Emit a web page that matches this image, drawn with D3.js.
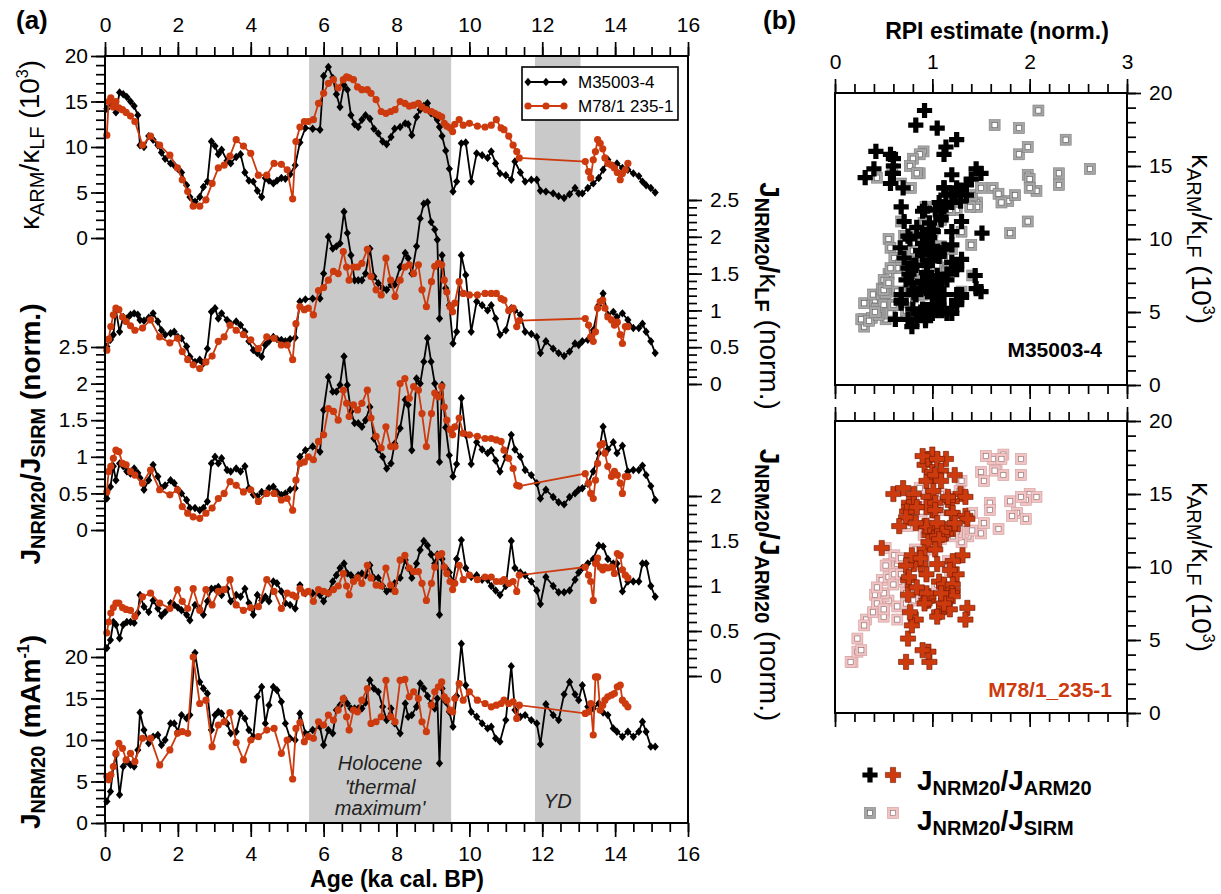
<!DOCTYPE html>
<html>
<head>
<meta charset="utf-8">
<script src="https://cdn.jsdelivr.net/npm/d3@7"></script>
<style>
  body { margin: 0; background: #fff; }
  svg text { white-space: pre; }
</style>
</head>
<body>
<svg id="chart" width="1221" height="894"></svg>
<script>
// ---- data: core M35003-4 (black) ----
const ageM35 = [
  0.05, 0.15, 0.23, 0.3, 0.4, 0.5, 0.6, 0.7, 0.8, 0.9,
  0.96, 1.07, 1.2, 1.32, 1.45, 1.55, 1.65, 1.8, 1.9, 2.0,
  2.1, 2.24, 2.33, 2.47, 2.6, 2.7, 2.81, 2.92, 3.02, 3.11,
  3.2, 3.35, 3.45, 3.6, 3.72, 3.84, 3.95, 4.07, 4.18, 4.3,
  4.4, 4.5, 4.62, 4.72, 4.84, 4.95, 5.08, 5.22, 5.35, 5.5,
  5.7, 5.9, 6.0, 6.13, 6.25, 6.35, 6.45, 6.56, 6.65, 6.75,
  6.85, 6.95, 7.05, 7.15, 7.27, 7.38, 7.5, 7.62, 7.73, 7.85,
  7.95, 8.1, 8.24, 8.32, 8.42, 8.55, 8.65, 8.75, 8.85, 8.95,
  9.05, 9.12, 9.18, 9.25, 9.35, 9.45, 9.55, 9.65, 9.78, 9.9,
  10.05, 10.2, 10.35, 10.5, 10.6, 10.72, 10.84, 11.0, 11.15, 11.25,
  11.4, 11.53, 11.7, 11.85, 11.95, 12.1, 12.3, 12.45, 12.6, 12.75,
  12.9, 13.0, 13.1, 13.25, 13.4, 13.55, 13.67, 13.8, 13.95, 14.05,
  14.2, 14.35, 14.5, 14.65, 14.75, 14.85, 14.98, 15.1
];
// kARM/kLF (10^3)
const kM35 = [
  14.2, 14.8, 14.5, 13.8, 16.0, 15.8, 15.5, 15.0, 14.5, 13.5,
  10.2, 10.0, 11.2, 10.8, 10.2, 9.4, 8.7, 8.2, 8.0, 7.6,
  7.2, 5.8, 4.5, 4.0, 4.5, 5.6, 6.2, 10.6, 10.1, 9.2,
  9.7, 8.5, 8.2, 8.9, 9.2, 7.2, 6.3, 6.2, 5.2, 4.5,
  6.6, 6.3, 6.0, 6.3, 6.6, 6.5, 7.0, 8.0, 10.5, 12.1,
  12.0, 11.9, 17.8, 18.8, 17.6, 15.8, 14.4, 16.8, 16.3, 13.5,
  12.5, 12.2, 13.0, 13.5, 13.1, 12.0, 11.5, 10.6, 10.3, 11.1,
  12.0, 12.2, 12.6, 12.5, 11.3, 13.3, 14.1, 14.5, 14.8, 13.7,
  13.5, 13.0, 12.2, 11.2, 9.6, 7.6, 5.1, 6.2, 10.4, 10.5,
  6.2, 9.3, 9.1, 8.8, 9.5, 8.2, 7.1, 6.9, 6.4, 8.4,
  7.2, 6.2, 6.4, 6.4, 5.2, 5.1, 4.9, 4.6, 4.4, 4.8,
  5.5, 4.9, 4.9, 5.5, 6.0, 6.6, 7.5, 8.6, 7.9, 8.2,
  7.7, 7.5, 7.1, 6.8, 6.2, 5.8, 5.5, 5.0
];
// JNRM20/kLF (norm.)
const nkM35 = [
  0.51, 0.60, 0.67, 1.00, 0.71, 0.91, 0.89, 0.94, 0.96, 0.94,
  0.87, 0.86, 0.90, 0.96, 0.85, 0.73, 0.67, 0.69, 0.71, 0.64,
  0.62, 0.51, 0.37, 0.30, 0.33, 0.28, 0.48, 0.98, 1.03, 0.89,
  0.96, 0.87, 0.82, 0.85, 0.80, 0.71, 0.58, 0.46, 0.42, 0.37,
  0.53, 0.58, 0.64, 0.61, 0.60, 0.58, 0.61, 0.63, 1.12, 1.15,
  1.16, 1.16, 1.50, 2.00, 1.84, 1.87, 1.91, 2.34, 2.05, 1.75,
  1.41, 1.41, 1.41, 1.50, 1.84, 1.46, 1.37, 1.30, 1.28, 1.35,
  1.35, 1.59, 1.78, 1.71, 1.50, 1.87, 2.25, 2.45, 2.47, 2.20,
  2.10, 1.96, 0.89, 1.75, 1.30, 1.07, 0.55, 0.71, 1.75, 1.48,
  0.71, 1.12, 1.07, 1.00, 1.07, 0.89, 0.67, 0.73, 1.03, 1.00,
  0.94, 0.71, 0.68, 0.64, 0.42, 0.58, 0.48, 0.42, 0.38, 0.44,
  0.55, 0.53, 0.58, 0.60, 0.73, 1.07, 1.23, 0.94, 0.98, 0.91,
  0.96, 0.87, 0.76, 0.76, 0.82, 0.71, 0.58, 0.42
];
// JNRM20/JSIRM (norm.)
const nsM35 = [
  0.43, 0.59, 0.87, 0.68, 0.91, 0.87, 0.80, 0.77, 0.84, 0.78,
  0.71, 0.55, 0.68, 0.89, 0.73, 0.57, 0.61, 0.68, 0.64, 0.55,
  0.50, 0.41, 0.30, 0.30, 0.27, 0.30, 0.39, 0.91, 1.00, 0.91,
  0.98, 0.82, 0.80, 0.84, 0.80, 0.87, 0.57, 0.48, 0.46, 0.52,
  0.50, 0.57, 0.59, 0.52, 0.48, 0.50, 0.55, 0.57, 1.00, 1.09,
  1.14, 1.07, 1.64, 2.09, 1.89, 1.89, 1.98, 2.37, 1.98, 1.62,
  1.46, 1.46, 1.41, 1.50, 1.68, 1.25, 1.10, 1.00, 0.84, 0.91,
  1.18, 1.39, 1.78, 1.71, 1.09, 2.07, 2.00, 2.30, 2.62, 2.30,
  2.00, 1.85, 0.93, 1.98, 1.40, 1.02, 0.73, 0.90, 1.80, 1.30,
  0.90, 1.20, 1.10, 1.05, 1.09, 0.95, 0.80, 1.00, 1.30, 1.10,
  1.00, 0.82, 0.75, 0.64, 0.43, 0.55, 0.45, 0.38, 0.35, 0.45,
  0.50, 0.55, 0.57, 0.63, 0.80, 1.05, 1.41, 1.10, 1.20, 1.05,
  1.15, 0.80, 0.82, 0.82, 0.88, 0.75, 0.60, 0.41
];
// JNRM20/JARM20 (norm.)
const naM35 = [
  0.31, 0.40, 0.60, 0.57, 0.42, 0.57, 0.60, 0.60, 0.59, 0.70,
  0.90, 0.77, 0.71, 0.84, 0.75, 0.67, 0.71, 0.81, 0.79, 0.76,
  0.73, 0.68, 0.62, 0.79, 0.75, 0.68, 0.83, 0.97, 0.97, 0.99,
  0.90, 0.97, 0.83, 0.90, 0.88, 0.97, 0.81, 0.68, 0.90, 0.84,
  0.88, 0.83, 1.05, 1.03, 0.94, 0.81, 0.79, 0.75, 1.01, 0.92,
  0.92, 0.90, 0.83, 0.92, 1.05, 1.12, 1.20, 1.25, 1.14, 1.12,
  1.07, 1.12, 1.14, 1.12, 1.23, 1.09, 1.09, 1.00, 0.94, 0.97,
  1.03, 1.09, 1.29, 1.20, 1.09, 1.25, 1.40, 1.50, 1.45, 1.35,
  1.25, 1.35, 0.68, 1.30, 1.20, 1.15, 1.05, 1.30, 1.51, 1.20,
  1.10, 1.12, 1.07, 1.07, 1.00, 0.95, 0.90, 1.00, 1.50, 1.20,
  1.15, 1.12, 1.05, 0.95, 0.80, 1.10, 1.00, 0.93, 0.93, 0.95,
  1.07, 1.15, 1.20, 1.25, 1.30, 1.45, 1.44, 1.30, 1.25, 1.25,
  0.94, 1.05, 1.05, 1.05, 1.25, 1.25, 1.00, 0.88
];
// JNRM20 (mA/m)
const nM35 = [
  2.6, 3.8, 6.8, 8.2, 3.4, 6.8, 7.4, 7.0, 6.8, 8.8,
  13.3, 11.2, 9.6, 10.4, 10.6, 9.4, 10.0, 12.0, 12.0, 11.0,
  13.0, 12.6, 13.0, 20.5, 17.0, 16.2, 15.6, 11.2, 13.0, 13.4,
  13.2, 12.0, 10.8, 11.0, 13.2, 12.6, 11.2, 10.4, 15.2, 16.4,
  12.0, 14.2, 16.4, 16.0, 14.6, 12.0, 10.2, 10.0, 13.2, 10.8,
  11.2, 11.6, 9.4, 11.2, 10.8, 13.6, 14.2, 15.0, 14.4, 13.8,
  13.8, 13.8, 13.8, 14.5, 17.2, 16.2, 15.8, 14.0, 12.4, 13.8,
  12.0, 10.8, 14.4, 12.8, 13.0, 14.0, 16.8, 16.2, 15.3, 14.4,
  13.8, 15.0, 7.2, 16.2, 14.6, 13.4, 11.6, 15.3, 21.6, 16.6,
  13.4, 12.8, 12.0, 11.4, 11.6, 10.2, 9.8, 12.4, 18.9, 13.6,
  12.8, 13.0, 12.4, 12.0, 9.5, 14.3, 13.0, 12.4, 15.5, 17.0,
  15.5, 14.8, 16.6, 14.0, 13.8, 14.4, 13.3, 13.0, 11.4, 11.0,
  10.4, 11.0, 10.4, 11.0, 12.2, 11.0, 9.2, 9.2
];

// ---- data: core M78/1 235-1 (red) ----
const ageM78 = [
  0.05, 0.1, 0.16, 0.23, 0.3, 0.38, 0.48, 0.58, 0.7, 0.82,
  1.03, 1.25, 1.5, 1.78, 1.99, 2.12, 2.27, 2.42, 2.6, 2.77,
  2.94, 3.11, 3.27, 3.43, 3.6, 3.8, 4.0, 4.21, 4.44, 4.64,
  4.84, 5.0, 5.15, 5.24, 5.35, 5.47, 5.58, 5.72, 5.86, 6.0,
  6.13, 6.27, 6.4, 6.54, 6.63, 6.7, 6.82, 6.93, 7.05, 7.2,
  7.3, 7.44, 7.58, 7.71, 7.84, 7.96, 8.1, 8.23, 8.35, 8.47,
  8.6, 8.7, 8.82, 8.96, 9.05, 9.15, 9.24, 9.31, 9.38, 9.47,
  9.54, 9.6, 9.72, 9.83, 10.0, 10.22, 10.43, 10.6, 10.74, 10.87,
  10.95, 11.08, 11.2, 11.3, 11.37, 13.18, 13.27, 13.33, 13.4, 13.46,
  13.52, 13.59, 13.66, 13.72, 13.8, 13.9, 13.98, 14.06, 14.14, 14.2,
  14.28, 14.35
];
const kM78 = [
  11.3, 15.0, 15.4, 14.4, 15.0, 14.3, 14.1, 13.8, 13.4, 12.8,
  10.2, 11.2, 10.2, 9.1, 7.7, 6.4, 5.1, 3.5, 3.5, 4.2,
  6.0, 7.7, 8.0, 9.0, 10.8, 10.1, 9.3, 6.9, 6.9, 8.2,
  8.1, 7.5, 4.3, 10.6, 12.2, 12.8, 12.8, 13.0, 14.8, 15.9,
  17.0, 17.4, 16.5, 17.4, 17.7, 17.6, 17.4, 16.6, 16.3, 16.3,
  15.9, 15.2, 13.9, 13.7, 13.9, 14.1, 15.0, 14.8, 14.5, 14.6,
  14.8, 14.4, 14.1, 13.9, 13.7, 13.5, 13.3, 12.6, 12.3, 12.1,
  11.7, 12.5, 13.0, 12.4, 12.6, 12.3, 12.2, 12.4, 13.0, 12.1,
  11.9, 11.2, 10.2, 9.5, 8.8, 8.4, 7.3, 6.6, 8.6, 9.5,
  10.8, 10.4, 9.8, 8.8, 8.2, 8.0, 7.7, 7.2, 6.4, 7.1,
  7.5, 8.2
];
const nkM78 = [
  0.46, 0.61, 0.78, 0.94, 1.03, 1.01, 0.91, 0.85, 0.79, 0.73,
  0.76, 0.87, 0.64, 0.56, 0.62, 0.44, 0.33, 0.26, 0.21, 0.30,
  0.38, 0.58, 0.64, 0.80, 0.73, 0.67, 0.60, 0.48, 0.64, 0.62,
  0.53, 0.53, 0.33, 0.82, 1.05, 1.01, 1.03, 0.94, 1.27, 1.31,
  1.41, 1.53, 1.50, 1.80, 1.59, 1.41, 1.59, 1.59, 1.64, 1.83,
  1.46, 1.28, 1.21, 1.71, 1.41, 1.19, 1.41, 1.59, 1.62, 1.50,
  1.62, 1.28, 1.05, 1.39, 1.60, 1.64, 1.62, 1.41, 1.25, 1.05,
  0.98, 1.10, 1.39, 1.23, 1.21, 1.21, 1.23, 1.23, 1.23, 1.16,
  1.14, 1.00, 1.03, 0.78, 0.86, 0.89, 0.80, 0.64, 0.58, 0.71,
  1.03, 1.12, 1.14, 1.03, 0.91, 0.87, 0.80, 0.84, 0.67, 0.55,
  0.78, 0.78
];
const nsM78 = [
  0.52, 0.80, 0.87, 0.98, 1.09, 1.07, 0.91, 0.89, 0.80, 0.75,
  0.64, 0.82, 0.55, 0.48, 0.55, 0.32, 0.23, 0.18, 0.16, 0.23,
  0.30, 0.43, 0.50, 0.66, 0.61, 0.52, 0.55, 0.39, 0.50, 0.50,
  0.41, 0.43, 0.27, 0.68, 0.91, 0.93, 1.00, 0.96, 1.21, 1.30,
  1.66, 1.62, 1.50, 1.91, 1.73, 1.55, 1.71, 1.64, 1.73, 1.91,
  1.53, 1.28, 1.12, 1.41, 1.14, 1.14, 2.00, 2.07, 1.80, 1.96,
  1.91, 1.59, 1.14, 1.59, 1.87, 1.82, 1.96, 1.68, 1.50, 1.37,
  1.30, 1.41, 1.53, 1.32, 1.30, 1.28, 1.25, 1.25, 1.23, 1.21,
  1.09, 0.98, 0.84, 0.61, 0.60, 0.77, 0.64, 0.50, 0.43, 0.68,
  0.91, 1.16, 1.18, 1.05, 0.87, 0.73, 0.80, 0.75, 0.64, 0.50,
  0.73, 0.73
];
const naM78 = [
  0.48, 0.60, 0.70, 0.76, 0.81, 0.81, 0.76, 0.74, 0.73, 0.66,
  0.88, 0.92, 0.81, 0.75, 0.96, 0.83, 0.75, 0.97, 0.73, 0.96,
  0.79, 0.94, 0.96, 1.07, 0.79, 0.73, 0.76, 0.77, 1.07, 0.94,
  0.75, 0.92, 0.90, 0.88, 0.97, 0.92, 0.94, 0.83, 0.96, 0.94,
  0.92, 0.96, 1.00, 1.14, 1.00, 0.90, 1.05, 1.09, 1.03, 1.23,
  1.09, 1.01, 1.00, 1.20, 1.01, 0.94, 1.29, 1.34, 1.20, 1.16,
  1.16, 1.03, 0.84, 1.03, 1.21, 1.34, 1.36, 1.21, 1.14, 1.05,
  0.96, 1.03, 1.23, 1.07, 1.12, 1.07, 1.10, 1.10, 1.05, 1.05,
  1.07, 1.03, 1.05, 0.94, 1.12, 1.21, 1.12, 1.05, 0.84, 1.25,
  1.31, 1.21, 1.18, 1.21, 1.20, 1.21, 1.14, 1.36, 1.34, 1.18,
  1.12, 1.09
];
const nM78 = [
  5.6, 5.2, 5.8, 6.8, 8.4, 9.6, 9.0, 7.6, 8.4, 7.4,
  10.2, 10.2, 7.0, 8.8, 10.8, 11.0, 10.8, 20.0, 14.4, 14.8,
  9.2, 11.8, 12.2, 13.3, 9.7, 7.6, 10.0, 10.4, 11.2, 11.4,
  8.4, 10.0, 5.3, 11.4, 12.1, 9.8, 10.4, 10.2, 12.2, 11.8,
  13.0, 12.4, 13.6, 15.0, 12.8, 11.2, 13.6, 13.4, 14.8, 16.2,
  12.0, 12.2, 12.8, 17.2, 12.8, 12.2, 17.2, 17.3, 15.2, 15.8,
  15.0, 12.2, 11.0, 14.2, 15.8, 16.4, 17.0, 15.2, 14.8, 13.6,
  13.4, 15.0, 16.8, 14.8, 15.8, 14.8, 14.4, 14.0, 14.2, 14.4,
  14.8, 14.4, 14.6, 12.6, 14.2, 13.2, 13.4, 14.4, 10.6, 17.6,
  17.6, 13.6, 14.2, 14.8, 15.2, 15.4, 15.6, 16.4, 16.6, 14.8,
  14.4, 14.0
];

// shaded intervals (ka)
const holoceneBand = [5.6, 9.5];
const ydBand = [11.8, 13.05];

// tick labels
const ageTicks = [0, 2, 4, 6, 8, 10, 12, 14, 16];
const kTicks = [0, 5, 10, 15, 20];
const normTicks25 = [0, 0.5, 1, 1.5, 2, 2.5];
const normTicks2 = [0, 0.5, 1, 1.5, 2];
const nrmTicks = [0, 5, 10, 15, 20];
const rpiTicks = [0, 1, 2, 3];

const RED = '#cc3a0e';
const FONT = 'Arial, "Liberation Sans", Helvetica, sans-serif';

const svg = d3.select('#chart').attr('font-family', FONT);

function rows(ages, vals) {
  return ages.map((a, i) => ({ age: a, v: vals[i] }));
}

function drawAxis(orient, tx, ty, scale, major, minor, showLabels, pad) {
  const make = { left: d3.axisLeft, right: d3.axisRight, top: d3.axisTop, bottom: d3.axisBottom }[orient];
  const g = svg.append('g').attr('transform', `translate(${tx},${ty})`);
  const minorG = g.append('g').call(make(scale).tickValues(minor).tickSize(9).tickFormat(''));
  const majorG = g.append('g').call(make(scale).tickValues(major).tickSize(14).tickPadding(pad)
    .tickFormat(showLabels ? (d => String(d)) : ''));
  [minorG, majorG].forEach(a => {
    a.attr('font-family', FONT).attr('font-size', 21);
    a.select('.domain').remove();
    a.selectAll('line').attr('stroke', '#000').attr('stroke-width', 1.7);
    a.selectAll('text').attr('fill', '#000');
  });
}

// rich text: parts = [text, kind('b'|'s'|'p'), weight]
function rich(x, y, rotate, parts, o) {
  const t = svg.append('text')
    .attr('transform', `translate(${x},${y}) rotate(${rotate})`)
    .attr('text-anchor', o.anchor || 'middle')
    .attr('fill', o.fill || '#000')
    .attr('font-weight', o.weight || 'bold');
  let cur = 0;
  parts.forEach(([s, kind, w]) => {
    const target = kind === 's' ? o.sub : kind === 'p' ? -o.sup : 0;
    const size = kind === 'b' ? o.base : kind === 's' ? o.subSize : o.supSize;
    const ts = t.append('tspan').attr('dy', target - cur).attr('font-size', size).text(s);
    if (w) ts.attr('font-weight', w);
    cur = target;
  });
  return t;
}

const txt = { base: 28, subSize: 20, supSize: 16, sub: 5, sup: 11 };

// ================= panel (a) =================
const x = d3.scaleLinear().domain([0, 16]).range([105, 688]);
const frameA = { top: 56, bottom: 823 };

[holoceneBand, ydBand].forEach(b => {
  svg.append('rect')
    .attr('x', x(b[0])).attr('y', frameA.top)
    .attr('width', x(b[1]) - x(b[0])).attr('height', frameA.bottom - frameA.top)
    .attr('fill', '#c9c9c9');
});

const tracks = [
  { m35: kM35,  m78: kM78,  scale: d3.scaleLinear().domain([0, 20]).range([238, 56]),  side: 'left',  major: kTicks,      minor: d3.range(0, 20.01, 1) },
  { m35: nkM35, m78: nkM78, scale: d3.scaleLinear().domain([0, 2.5]).range([384, 200]), side: 'right', major: normTicks25, minor: d3.range(0, 2.501, 0.1) },
  { m35: nsM35, m78: nsM78, scale: d3.scaleLinear().domain([0, 2.5]).range([530, 347]), side: 'left',  major: normTicks25, minor: d3.range(0, 2.501, 0.1) },
  { m35: naM35, m78: naM78, scale: d3.scaleLinear().domain([0, 2]).range([676, 496]),   side: 'right', major: normTicks2,  minor: d3.range(0, 2.001, 0.1) },
  { m35: nM35,  m78: nM78,  scale: d3.scaleLinear().domain([0, 20]).range([823, 657]),  side: 'left',  major: nrmTicks,    minor: d3.range(0, 21.01, 1) }
];

const diamond = 'M0,-4.2L3.6,0L0,4.2L-3.6,0Z';

tracks.forEach(tr => {
  const line = d3.line().x(d => x(d.age)).y(d => tr.scale(d.v));
  const black = rows(ageM35, tr.m35);
  const red = rows(ageM78, tr.m78);

  svg.append('path').datum(black).attr('d', line)
    .attr('fill', 'none').attr('stroke', '#000').attr('stroke-width', 1.8);
  svg.append('g').selectAll('path').data(black).join('path')
    .attr('d', diamond)
    .attr('transform', d => `translate(${x(d.age)},${tr.scale(d.v)})`)
    .attr('fill', '#000');

  svg.append('path').datum(red).attr('d', line)
    .attr('fill', 'none').attr('stroke', RED).attr('stroke-width', 1.8);
  svg.append('g').selectAll('circle').data(red).join('circle')
    .attr('cx', d => x(d.age)).attr('cy', d => tr.scale(d.v)).attr('r', 3.6)
    .attr('fill', RED);

  if (tr.side === 'left') drawAxis('left', 105, 0, tr.scale, tr.major, tr.minor, true, 3);
  else drawAxis('right', 688, 0, tr.scale, tr.major, tr.minor, true, 8);
});

svg.append('rect').attr('x', 105).attr('y', frameA.top)
  .attr('width', 583).attr('height', frameA.bottom - frameA.top)
  .attr('fill', 'none').attr('stroke', '#000').attr('stroke-width', 2);

drawAxis('top', 0, frameA.top, x, ageTicks, d3.range(0, 16.01, 0.5), true, 10);
drawAxis('bottom', 0, frameA.bottom, x, ageTicks, d3.range(0, 16.01, 0.5), true, 9);

// shaded interval labels
const holo = svg.append('text').attr('text-anchor', 'middle').attr('font-style', 'italic')
  .attr('font-size', 20).attr('fill', '#222');
[['Holocene', 770], ["'thermal", 794], ["maximum'", 815]].forEach(([s, yy]) =>
  holo.append('tspan').attr('x', (x(holoceneBand[0]) + x(holoceneBand[1])) / 2).attr('y', yy).text(s));
svg.append('text').attr('x', (x(ydBand[0]) + x(ydBand[1])) / 2).attr('y', 808)
  .attr('text-anchor', 'middle').attr('font-style', 'italic').attr('font-size', 20)
  .attr('fill', '#222').text('YD');

// legend (a)
const lg = svg.append('g');
lg.append('rect').attr('x', 522).attr('y', 67).attr('width', 156).attr('height', 53)
  .attr('fill', '#fff').attr('stroke', '#000').attr('stroke-width', 1.6);
[{ y: 82, c: '#000', label: 'M35003-4', shape: 'd' }, { y: 106, c: RED, label: 'M78/1 235-1', shape: 'c' }]
  .forEach(e => {
    lg.append('line').attr('x1', 528).attr('x2', 564).attr('y1', e.y).attr('y2', e.y)
      .attr('stroke', e.c).attr('stroke-width', 1.8);
    [528, 546, 564].forEach(px => {
      if (e.shape === 'd') lg.append('path').attr('d', diamond).attr('transform', `translate(${px},${e.y})`).attr('fill', e.c);
      else lg.append('circle').attr('cx', px).attr('cy', e.y).attr('r', 3.6).attr('fill', e.c);
    });
    lg.append('text').attr('x', 578).attr('y', e.y + 6).attr('font-size', 17).text(e.label);
  });

// axis titles (a)
rich(39, 145, -90, [['κ', 'b', 'normal'], ['ARM', 's', 'normal'], ['/', 'b', 'normal'], ['κ', 'b', 'normal'], ['LF', 's', 'normal'], [' (10', 'b', 'normal'], ['3', 'p', 'normal'], [')', 'b', 'normal']], txt);
rich(40, 434, -90, [['J', 'b'], ['NRM20', 's'], ['/', 'b'], ['J', 'b'], ['SIRM', 's'], [' (norm.)', 'b']], txt);
rich(40, 732, -90, [['J', 'b'], ['NRM20', 's'], [' (mAm', 'b'], ['-1', 'p'], [')', 'b']], txt);
rich(760, 296, 90, [['J', 'b'], ['NRM20', 's'], ['/', 'b'], ['κ', 'b', 'normal'], ['LF', 's'], [' (norm.)', 'b', 'normal']], txt);
rich(760, 585, 90, [['J', 'b'], ['NRM20', 's'], ['/', 'b'], ['J', 'b'], ['ARM20', 's'], [' (norm.)', 'b', 'normal']], txt);

svg.append('text').attr('x', 397).attr('y', 887).attr('text-anchor', 'middle')
  .attr('font-size', 23).attr('font-weight', 'bold').text('Age (ka cal. BP)');
svg.append('text').attr('x', 16).attr('y', 29).attr('font-size', 26).attr('font-weight', 'bold').text('(a)');

// ================= panel (b) =================
svg.append('text').attr('x', 763).attr('y', 29).attr('font-size', 26).attr('font-weight', 'bold').text('(b)');

const xr = d3.scaleLinear().domain([0, 3]).range([835, 1127]);
const scatters = [
  { top: 93, bottom: 385, k: kM35, na: naM35, ns: nsM35, cross: '#000', crossStroke: 'none',
    sqFill: '#a6a6a6', sqStroke: '#7c7c7c', inStroke: '#555', label: 'M35003-4', labelColor: '#000', lx: 1102, ly: 357, topLabels: true },
  { top: 421, bottom: 713, k: kM78, na: naM78, ns: nsM78, cross: RED, crossStroke: '#6e1a00',
    sqFill: '#f1c3c3', sqStroke: '#cf9c9c', inStroke: '#8a6666', label: 'M78/1_235-1', labelColor: RED, lx: 1112, ly: 697, topLabels: false }
];

const crossPath = 'M-2.6,-7.6H2.6V-2.6H7.6V2.6H2.6V7.6H-2.6V2.6H-7.6V-2.6H-2.6Z';

function square(g, px, py, s) {
  g.append('rect').attr('x', px - 5.5).attr('y', py - 5.5).attr('width', 11).attr('height', 11)
    .attr('fill', s.sqFill).attr('stroke', s.sqStroke).attr('stroke-width', 0.6);
  g.append('rect').attr('x', px - 2.6).attr('y', py - 2.6).attr('width', 5.2).attr('height', 5.2)
    .attr('fill', '#fff').attr('stroke', s.inStroke).attr('stroke-width', 0.6);
}
function cross(g, px, py, s) {
  g.append('path').attr('d', crossPath).attr('transform', `translate(${px},${py})`)
    .attr('fill', s.cross).attr('stroke', s.crossStroke).attr('stroke-width', 0.6);
}

scatters.forEach(s => {
  const y = d3.scaleLinear().domain([0, 20]).range([s.bottom, s.top]);
  const g = svg.append('g');
  s.ns.forEach((v, i) => square(g, xr(v), y(s.k[i]), s));
  s.na.forEach((v, i) => cross(g, xr(v), y(s.k[i]), s));

  svg.append('rect').attr('x', 835).attr('y', s.top).attr('width', 292).attr('height', s.bottom - s.top)
    .attr('fill', 'none').attr('stroke', '#000').attr('stroke-width', 2);

  drawAxis('top', 0, s.top, xr, rpiTicks, d3.range(0, 3.01, 0.2), s.topLabels, 10);
  drawAxis('bottom', 0, s.bottom, xr, rpiTicks, d3.range(0, 3.01, 0.2), false, 10);
  drawAxis('right', 1127, 0, y, kTicks, d3.range(0, 20.01, 1), true, 8);

  svg.append('text').attr('x', s.lx).attr('y', s.ly).attr('text-anchor', 'end')
    .attr('font-size', 21).attr('font-weight', 'bold').attr('fill', s.labelColor).text(s.label);

  rich(1192, (s.top + s.bottom) / 2, 90, [['κ', 'b', 'normal'], ['ARM', 's', 'normal'], ['/', 'b', 'normal'], ['κ', 'b', 'normal'], ['LF', 's', 'normal'], [' (10', 'b', 'normal'], ['3', 'p', 'normal'], [')', 'b', 'normal']], txt);
});

svg.append('text').attr('x', 997).attr('y', 39).attr('text-anchor', 'middle')
  .attr('font-size', 23).attr('font-weight', 'bold').text('RPI estimate (norm.)');

// legend (b)
const lb = svg.append('g');
cross(lb, 870, 775, scatters[0]);
cross(lb, 893, 775, scatters[1]);
square(lb, 870, 813, scatters[0]);
square(lb, 893, 813, scatters[1]);
rich(917, 790, 0, [['J', 'b'], ['NRM20', 's'], ['/', 'b'], ['J', 'b'], ['ARM20', 's']], Object.assign({ anchor: 'start' }, txt));
rich(917, 830, 0, [['J', 'b'], ['NRM20', 's'], ['/', 'b'], ['J', 'b'], ['SIRM', 's']], Object.assign({ anchor: 'start' }, txt));
</script>
</body>
</html>
